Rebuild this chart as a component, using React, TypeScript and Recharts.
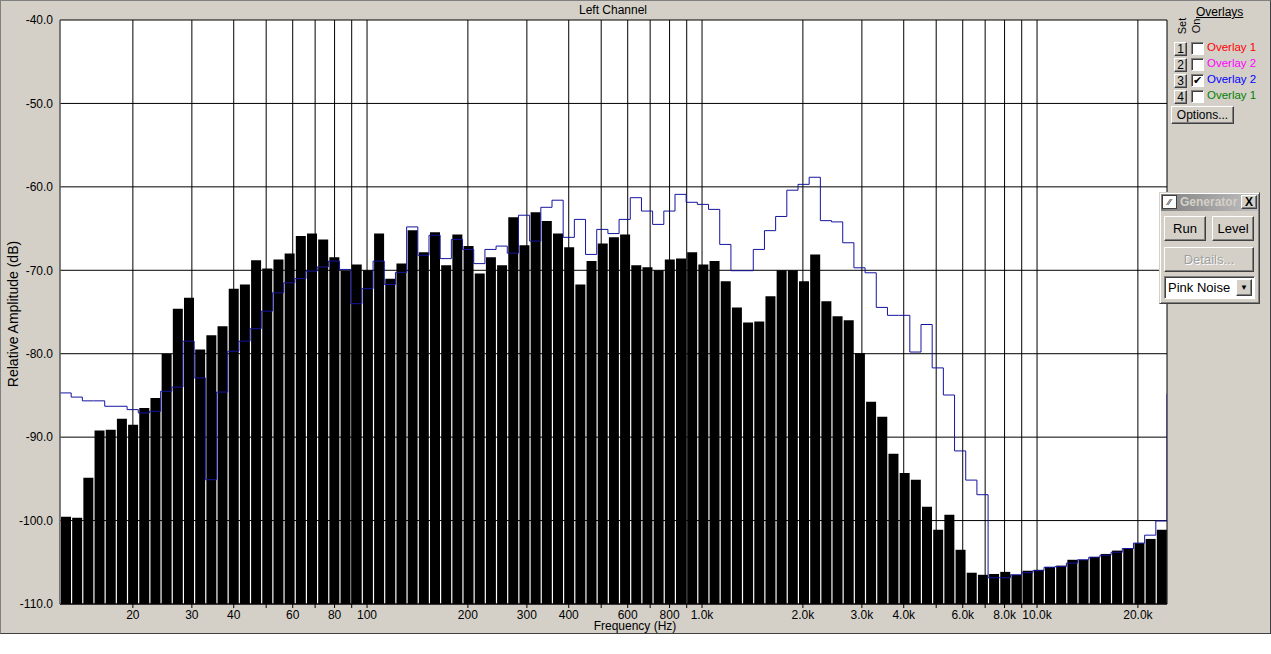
import React from "react";
import {
  ComposedChart,
  Bar,
  Line,
  XAxis,
  YAxis,
  CartesianGrid,
} from "recharts";

// 1/9-octave analyser bins, left channel (dB)
const barDb = [
  -99.55, -99.66, -94.86, -89.2, -89.1, -87.8, -88.5, -86.5, -85.3, -80.0,
  -74.6, -73.3, -79.5, -77.8, -76.7, -72.2, -71.7, -68.8, -69.8, -68.7,
  -68.0, -65.9, -65.6, -66.3, -68.45, -70.05, -69.3, -70.0, -65.6, -71.0,
  -69.2, -65.2, -67.85, -65.45, -69.4, -65.7, -67.1, -70.4, -68.45, -69.4,
  -63.65, -67.0, -63.05, -64.1, -65.6, -67.25, -71.7, -68.9, -66.8, -66.05,
  -65.7, -69.4, -69.65, -70.0, -68.7, -68.6, -67.85, -69.3, -68.9, -71.3,
  -74.45, -76.25, -76.15, -73.1, -70.0, -70.0, -71.3, -68.1, -73.7, -75.5,
  -76.0, -79.9, -85.75, -87.55, -92.0, -94.3, -95.1, -98.35, -101.1, -99.3,
  -103.5, -106.25, -106.5, -106.4, -106.15, -106.5, -106.0, -105.9, -105.55, -105.4,
  -104.7, -104.7, -104.35, -104.0, -103.6, -103.3, -102.7, -102.2, -101.1,
];

// overlay 2 (blue), one value per bin, last entry is the closing edge
const overlayDb = [
  -84.7, -85.2, -85.65, -85.65, -86.3, -86.3, -86.7, -87.1, -86.9, -84.5,
  -84.0, -78.5, -82.9, -95.1, -84.6, -79.7, -78.5, -77.0, -74.9, -72.7,
  -71.5, -71.0, -70.1, -69.6, -68.9, -69.9, -74.0, -72.2, -68.9, -71.7,
  -70.25, -64.8, -68.2, -65.8, -68.6, -66.3, -67.5, -69.2, -67.5, -67.1,
  -67.95, -63.4, -66.5, -62.45, -61.6, -66.05, -63.9, -68.1, -65.1, -65.6,
  -63.9, -61.3, -62.9, -64.5, -62.9, -60.9, -61.85, -62.1, -62.7, -66.9,
  -70.05, -70.05, -67.5, -65.25, -63.55, -60.4, -59.7, -58.85, -64.05, -64.2,
  -66.7, -69.7, -70.3, -74.45, -75.4, -75.4, -79.8, -76.5, -81.7, -84.95,
  -91.65, -95.15, -96.9, -106.85, -106.85, -106.5, -106.25, -106.0, -105.6, -105.5,
  -105.1, -104.7, -104.4, -104.15, -103.8, -103.35, -102.7, -101.75, -100.05, -84.8,
];

const gridFreqs = [
  20, 30, 40, 50, 60, 70, 80, 90, 100, 200, 300, 400, 500, 600, 700, 800, 900,
  1000, 2000, 3000, 4000, 5000, 6000, 7000, 8000, 9000, 10000, 20000,
];
const labeledFreqs = [
  20, 30, 40, 60, 80, 100, 200, 300, 400, 600, 800, 1000, 2000, 3000, 4000,
  6000, 8000, 10000, 20000,
];
const dbTicks = [-110, -100, -90, -80, -70, -60, -50, -40];

// analyser span (Hz) and floor of the display
const F_MIN = 12.12;
const F_MAX = 24430;
const FLOOR = -110;

const N = barDb.length;
const barData = barDb.map((v, i) => ({ bin: i, v }));
const lineData = overlayDb.map((v, i) => ({ i, v }));

// bins are equal steps in log frequency, so map Hz onto the bin axis
const lo = Math.log10(F_MIN);
const hi = Math.log10(F_MAX);
const toBin = (f: number) => ((Math.log10(f) - lo) / (hi - lo)) * N;
const gridTicks = gridFreqs.map(toBin);

const fmtFreq = (_: number, k: number) => {
  const f = gridFreqs[k];
  if (!labeledFreqs.includes(f)) return "";
  return f >= 1000 ? (f / 1000).toFixed(1) + "k" : String(f);
};

const font = "'Liberation Sans', Arial, sans-serif";

const btn: React.CSSProperties = {
  position: "absolute",
  boxSizing: "border-box",
  background: "#d4d0c8",
  borderTop: "1px solid #fff",
  borderLeft: "1px solid #fff",
  borderRight: "1px solid #404040",
  borderBottom: "1px solid #404040",
  boxShadow: "inset -1px -1px #808080",
  fontSize: 12,
  color: "#000",
  display: "flex",
  alignItems: "center",
  justifyContent: "center",
};

const box: React.CSSProperties = {
  position: "absolute",
  boxSizing: "border-box",
  background: "#fff",
  borderTop: "1px solid #808080",
  borderLeft: "1px solid #808080",
  borderRight: "1px solid #fff",
  borderBottom: "1px solid #fff",
  boxShadow: "inset 1px 1px #404040",
};

const overlays = [
  { set: "1", on: false, name: "Overlay 1", color: "#ff0000" },
  { set: "2", on: false, name: "Overlay 2", color: "#ff00ff" },
  { set: "3", on: true, name: "Overlay 2", color: "#0000ff" },
  { set: "4", on: false, name: "Overlay 1", color: "#008000" },
];

export default function App() {
  return (
    <div
      style={{
        position: "absolute",
        left: 0,
        top: 0,
        width: 1271,
        height: 654,
        background: "#fff",
        fontFamily: font,
      }}
    >
      <div
        style={{
          position: "absolute",
          left: 0,
          top: 0,
          width: 1271,
          height: 634,
          boxSizing: "border-box",
          background: "#d4d0c8",
          borderTop: "1px solid #808080",
          borderLeft: "1px solid #808080",
          borderRight: "1px solid #404040",
          borderBottom: "1px solid #404040",
        }}
      />
      <div style={{ position: "absolute", left: 0, top: 0 }}>
        <ComposedChart
          width={1271}
          height={634}
          data={barData}
          margin={{ top: 20, right: 104, bottom: 0, left: 0 }}
        >
          <CartesianGrid
            xAxisId="idx"
            stroke="#000"
            fill="#fff"
            fillOpacity={1}
          />
          <XAxis
            xAxisId="bins"
            dataKey="bin"
            type="category"
            orientation="top"
            height={0}
            hide
          />
          <XAxis
            xAxisId="idx"
            dataKey="i"
            type="number"
            domain={[0, N]}
            allowDataOverflow
            ticks={gridTicks}
            interval={0}
            tickFormatter={fmtFreq}
            height={30}
            tickSize={4}
            tickMargin={2}
            tick={{ fontSize: 12, fill: "#000" }}
            axisLine={{ stroke: "#000" }}
            tickLine={{ stroke: "#000" }}
          />
          <YAxis
            type="number"
            domain={[-110, -40]}
            ticks={dbTicks}
            interval={0}
            width={60}
            tickSize={6}
            tickMargin={1}
            tickLine={false}
            axisLine={{ stroke: "#808080" }}
            tick={{ fontSize: 12, fill: "#000" }}
            tickFormatter={(v: number) => v.toFixed(1)}
          />
          <Bar
            xAxisId="bins"
            dataKey={(d: { v: number }) => [FLOOR, d.v]}
            fill="#000"
            barSize={10}
            isAnimationActive={false}
          />
          <Line
            xAxisId="idx"
            data={lineData}
            dataKey="v"
            type="stepAfter"
            stroke="#1414a0"
            strokeWidth={1}
            dot={false}
            activeDot={false}
            isAnimationActive={false}
          />
        </ComposedChart>
      </div>

      <div style={{ position: "absolute", left: 0, top: 3, width: 1226, textAlign: "center", fontSize: 12 }}>
        Left Channel
      </div>
      <div style={{ position: "absolute", left: 0, top: 619, width: 1270, textAlign: "center", fontSize: 12 }}>
        Frequency (Hz)
      </div>
      <div
        style={{
          position: "absolute",
          left: 13,
          top: 314,
          fontSize: 14,
          whiteSpace: "nowrap",
          transform: "translate(-50%, -50%) rotate(-90deg)",
        }}
      >
        Relative Amplitude (dB)
      </div>

      {/* overlay panel */}
      <div style={{ position: "absolute", left: 1196, top: 5, fontSize: 12, textDecoration: "underline" }}>
        Overlays
      </div>
      <div style={{ position: "absolute", left: 1182, top: 26, fontSize: 11, transform: "translate(-50%, -50%) rotate(-90deg)" }}>
        Set
      </div>
      <div style={{ position: "absolute", left: 1196, top: 26, fontSize: 11, transform: "translate(-50%, -50%) rotate(-90deg)" }}>
        On
      </div>
      {overlays.map((o, k) => (
        <React.Fragment key={k}>
          <div style={{ ...btn, left: 1174, top: 42 + k * 16, width: 13, height: 14 }}>{o.set}</div>
          <div style={{ ...box, left: 1191, top: 42 + k * 16, width: 13, height: 13, fontSize: 11, lineHeight: "11px", textAlign: "center" }}>
            {o.on ? "✔" : ""}
          </div>
          <div style={{ position: "absolute", left: 1207, top: 41 + k * 16, fontSize: 11.5, color: o.color }}>{o.name}</div>
        </React.Fragment>
      ))}
      <div style={{ ...btn, left: 1171, top: 106, width: 63, height: 18 }}>Options...</div>

      {/* generator window */}
      <div
        style={{
          position: "absolute",
          left: 1159,
          top: 192,
          width: 101,
          height: 112,
          boxSizing: "border-box",
          background: "#d4d0c8",
          borderTop: "1px solid #d4d0c8",
          borderLeft: "1px solid #d4d0c8",
          borderRight: "1px solid #404040",
          borderBottom: "1px solid #404040",
          boxShadow: "inset 1px 1px #fff, inset -1px -1px #808080",
        }}
      />
      <div
        style={{
          position: "absolute",
          left: 1161,
          top: 194,
          width: 97,
          height: 17,
          background: "linear-gradient(to right, #808080, #c0c0c0)",
          overflow: "hidden",
        }}
      >
        <div style={{ position: "absolute", left: 1, top: 1, width: 15, height: 14, background: "#fff", border: "1px solid #404040", boxSizing: "border-box", fontSize: 9, lineHeight: "12px", textAlign: "center", color: "#000" }}>
          ⁄⁄
        </div>
        <div style={{ position: "absolute", left: 19, top: 1, fontSize: 12, fontWeight: "bold", color: "#d4d0c8", whiteSpace: "nowrap" }}>
          Generator
        </div>
        <div style={{ ...btn, left: 80, top: 1, width: 16, height: 14, fontWeight: "bold", fontSize: 12 }}>X</div>
      </div>
      <div style={{ ...btn, left: 1164, top: 216, width: 42, height: 25, fontSize: 13 }}>Run</div>
      <div style={{ ...btn, left: 1212, top: 216, width: 42, height: 25, fontSize: 13 }}>Level</div>
      <div style={{ ...btn, left: 1164, top: 247, width: 90, height: 25, fontSize: 13, color: "#a0a0a0", textShadow: "1px 1px #fff" }}>
        Details...
      </div>
      <div style={{ ...box, left: 1164, top: 276, width: 91, height: 23 }}>
        <div style={{ position: "absolute", left: 3, top: 3, fontSize: 13 }}>Pink Noise</div>
        <div style={{ ...btn, left: 71, top: 2, width: 16, height: 17, fontSize: 8 }}>▼</div>
      </div>
    </div>
  );
}
